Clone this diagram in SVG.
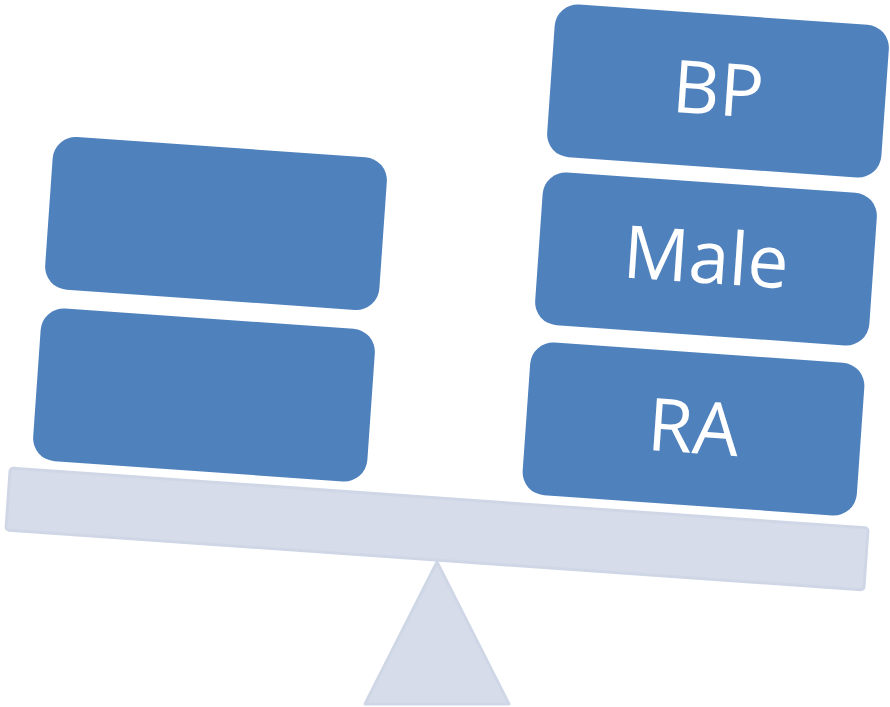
<svg xmlns="http://www.w3.org/2000/svg" width="890" height="707" viewBox="0 0 890 707">
<style>
.box{fill:#4F81BD;}
.lbl{fill:#FFFFFF;font-family:"Open Sans","Noto Sans",sans-serif;font-size:73px;text-anchor:middle;}
.base{fill:#D6DCEA;stroke:#CFD7E7;stroke-width:3;stroke-linejoin:round;}
</style>
<rect width="890" height="707" fill="#FFFFFF"/>
<g id="fulcrum">
<polygon class="base" points="437,562 509,704 365,704"/>
</g>
<g id="beam">
<rect class="base" x="-430" y="-31" width="860" height="62" rx="3" transform="translate(437,529) rotate(4)"/>
</g>
<g id="left-top" transform="translate(216,223.5) rotate(4)">
<rect class="box" x="-167.5" y="-76.5" width="335" height="153" rx="23"/>
</g>
<g id="left-bottom" transform="translate(204,395) rotate(4)">
<rect class="box" x="-167.5" y="-76.5" width="335" height="153" rx="23"/>
</g>
<g id="bp" transform="translate(718,91) rotate(4)">
<rect class="box" x="-167.5" y="-76.5" width="335" height="153" rx="23"/>
<text class="lbl" x="0" y="24">BP</text>
</g>
<g id="male" transform="translate(706,259) rotate(4)">
<rect class="box" x="-167.5" y="-76.5" width="335" height="153" rx="23"/>
<text class="lbl" x="0" y="24">Male</text>
</g>
<g id="ra" transform="translate(693.5,429) rotate(4)">
<rect class="box" x="-167.5" y="-76.5" width="335" height="153" rx="23"/>
<text class="lbl" x="0" y="24">RA</text>
</g>
<g id="connectors"></g>
</svg>
